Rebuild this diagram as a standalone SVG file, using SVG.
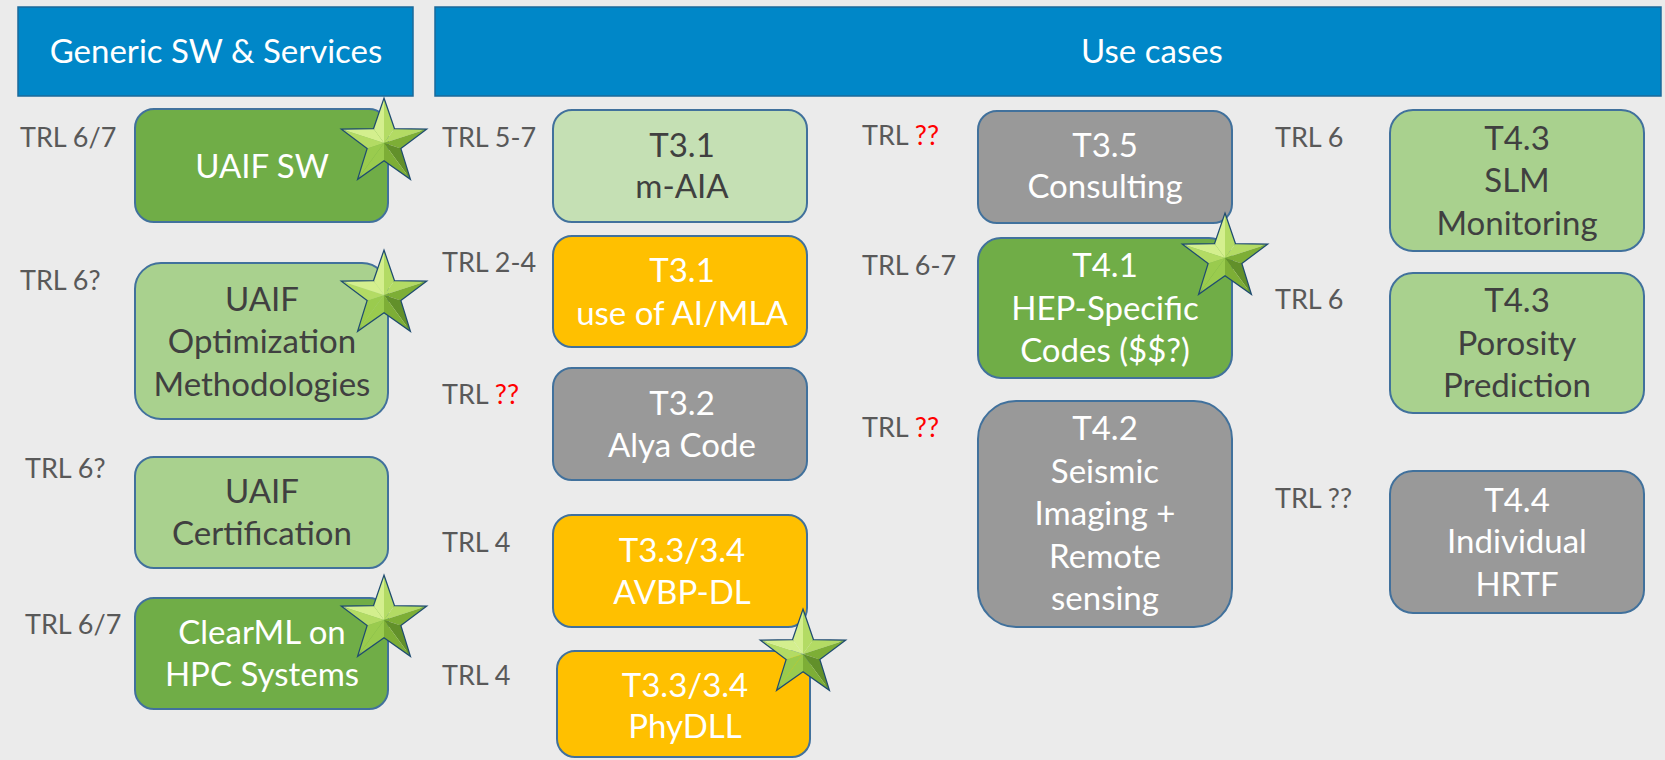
<svg xmlns="http://www.w3.org/2000/svg" width="1665" height="760" viewBox="0 0 1665 760">
<style>
.bg{fill:#EBEBEB}
.hdr{fill:#0087C8;stroke:#1B6A9A;stroke-width:1.5}
.hdrt{font-family:Lato,"Liberation Sans",sans-serif;font-size:33px;fill:#FFFFFF;text-anchor:middle}
.nd{stroke:#41719C;stroke-width:2}
.dg{fill:#70AD47}
.lg{fill:#A9D18E}
.pg{fill:#C5E0B4}
.or{fill:#FFC000}
.gr{fill:#999999}
.nt{font-family:Lato,"Liberation Sans",sans-serif;font-size:33px;text-anchor:middle}
.w{fill:#FFFFFF}
.k{fill:#404040}
.trl{font-family:Lato,"Liberation Sans",sans-serif;font-size:27px;fill:#595959}
.red{fill:#FF0000}
.s1{fill:#D4EF8E}
.s2{fill:#B3DB64}
.s3{fill:#9ACB4E}
.s4{fill:#7DAE36}
.s5{fill:#62902A}
.so{fill:none;stroke:#1E4B70;stroke-width:2.5;stroke-linejoin:miter}
</style>
<defs>
<g id="star">
<polygon class="so" points="0,-43 10,-13.75 40.9,-13.3 16.17,5.25 25.3,34.8 0,17 -25.3,34.8 -16.17,5.25 -40.9,-13.3 -10,-13.75"/>
<polygon class="s1" points="0,0 0,-43 -10,-13.75"/>
<polygon class="s2" points="0,0 0,-43 10,-13.75"/>
<polygon class="s2" points="0,0 40.9,-13.3 10,-13.75"/>
<polygon class="s4" points="0,0 40.9,-13.3 16.17,5.25"/>
<polygon class="s5" points="0,0 25.3,34.8 16.17,5.25"/>
<polygon class="s4" points="0,0 25.3,34.8 0,17"/>
<polygon class="s3" points="0,0 -25.3,34.8 0,17"/>
<polygon class="s3" points="0,0 -25.3,34.8 -16.17,5.25"/>
<polygon class="s2" points="0,0 -40.9,-13.3 -16.17,5.25"/>
<polygon class="s1" points="0,0 -40.9,-13.3 -10,-13.75"/>
</g>
</defs>
<rect class="bg" x="0" y="0" width="1665" height="760"/>

<g id="header-generic">
<rect class="hdr" x="18" y="7" width="395" height="89"/>
<text class="hdrt" x="216" y="63">Generic SW &amp; Services</text>
</g>
<g id="header-usecases">
<rect class="hdr" x="435" y="7" width="1226" height="89"/>
<text class="hdrt" x="1152" y="63">Use cases</text>
</g>

<g id="trl-labels">
<text class="trl" x="20" y="147">TRL 6/7</text>
<text class="trl" x="20" y="290">TRL 6?</text>
<text class="trl" x="25" y="478">TRL 6?</text>
<text class="trl" x="25" y="634">TRL 6/7</text>
<text class="trl" x="442" y="147">TRL 5-7</text>
<text class="trl" x="442" y="272">TRL 2-4</text>
<text class="trl" x="442" y="404">TRL <tspan class="red">??</tspan></text>
<text class="trl" x="442" y="552">TRL 4</text>
<text class="trl" x="442" y="685">TRL 4</text>
<text class="trl" x="862" y="145">TRL <tspan class="red">??</tspan></text>
<text class="trl" x="862" y="275">TRL 6-7</text>
<text class="trl" x="862" y="437">TRL <tspan class="red">??</tspan></text>
<text class="trl" x="1275" y="147">TRL 6</text>
<text class="trl" x="1275" y="309">TRL 6</text>
<text class="trl" x="1275" y="508">TRL ??</text>
</g>

<g id="node-uaif-sw">
<rect class="nd dg" x="135" y="109" width="253" height="113" rx="19"/>
<text class="nt w" x="262" y="178">UAIF SW</text>
</g>
<g id="node-uaif-opt">
<rect class="nd lg" x="135" y="263" width="253" height="156" rx="26"/>
<text class="nt k" x="262"><tspan x="262" y="311">UAIF</tspan><tspan x="262" y="353">Optimization</tspan><tspan x="262" y="396">Methodologies</tspan></text>
</g>
<g id="node-uaif-cert">
<rect class="nd lg" x="135" y="457" width="253" height="111" rx="19"/>
<text class="nt k" x="262"><tspan x="262" y="503">UAIF</tspan><tspan x="262" y="545">Certification</tspan></text>
</g>
<g id="node-clearml">
<rect class="nd dg" x="135" y="598" width="253" height="111" rx="19"/>
<text class="nt w" x="262"><tspan x="262" y="644">ClearML on</tspan><tspan x="262" y="686">HPC Systems</tspan></text>
</g>

<g id="node-t31-maia">
<rect class="nd pg" x="553" y="110" width="254" height="112" rx="19"/>
<text class="nt k" x="682"><tspan x="682" y="157">T3.1</tspan><tspan x="682" y="198">m-AIA</tspan></text>
</g>
<g id="node-t31-aimla">
<rect class="nd or" x="553" y="236" width="254" height="111" rx="19"/>
<text class="nt w" x="682"><tspan x="682" y="282">T3.1</tspan><tspan x="682" y="325">use of AI/MLA</tspan></text>
</g>
<g id="node-t32-alya">
<rect class="nd gr" x="553" y="368" width="254" height="112" rx="19"/>
<text class="nt w" x="682"><tspan x="682" y="415">T3.2</tspan><tspan x="682" y="457">Alya Code</tspan></text>
</g>
<g id="node-t33-avbp">
<rect class="nd or" x="553" y="515" width="254" height="112" rx="19"/>
<text class="nt w" x="682"><tspan x="682" y="562">T3.3/3.4</tspan><tspan x="682" y="604">AVBP-DL</tspan></text>
</g>
<g id="node-t33-phydll">
<rect class="nd or" x="557" y="651" width="253" height="106" rx="18"/>
<text class="nt w" x="685"><tspan x="685" y="697">T3.3/3.4</tspan><tspan x="685" y="738">PhyDLL</tspan></text>
</g>

<g id="node-t35-consulting">
<rect class="nd gr" x="978" y="111" width="254" height="112" rx="19"/>
<text class="nt w" x="1105"><tspan x="1105" y="157">T3.5</tspan><tspan x="1105" y="198">Consulting</tspan></text>
</g>
<g id="node-t41-hep">
<rect class="nd dg" x="978" y="238" width="254" height="140" rx="23"/>
<text class="nt w" x="1105"><tspan x="1105" y="277">T4.1</tspan><tspan x="1105" y="320">HEP-Specific</tspan><tspan x="1105" y="362">Codes ($$?)</tspan></text>
</g>
<g id="node-t42-seismic">
<rect class="nd gr" x="978" y="401" width="254" height="226" rx="38"/>
<text class="nt w" x="1105"><tspan x="1105" y="440">T4.2</tspan><tspan x="1105" y="483">Seismic</tspan><tspan x="1105" y="525">Imaging +</tspan><tspan x="1105" y="568">Remote</tspan><tspan x="1105" y="610">sensing</tspan></text>
</g>

<g id="node-t43-slm">
<rect class="nd lg" x="1390" y="110" width="254" height="141" rx="23"/>
<text class="nt k" x="1517"><tspan x="1517" y="150">T4.3</tspan><tspan x="1517" y="192">SLM</tspan><tspan x="1517" y="235">Monitoring</tspan></text>
</g>
<g id="node-t43-porosity">
<rect class="nd lg" x="1390" y="273" width="254" height="140" rx="23"/>
<text class="nt k" x="1517"><tspan x="1517" y="312">T4.3</tspan><tspan x="1517" y="355">Porosity</tspan><tspan x="1517" y="397">Prediction</tspan></text>
</g>
<g id="node-t44-hrtf">
<rect class="nd gr" x="1390" y="471" width="254" height="142" rx="23"/>
<text class="nt w" x="1517"><tspan x="1517" y="512">T4.4</tspan><tspan x="1517" y="553">Individual</tspan><tspan x="1517" y="596">HRTF</tspan></text>
</g>

<g id="stars">
<use href="#star" x="384" y="143"/>
<use href="#star" x="384" y="295"/>
<use href="#star" x="384" y="620"/>
<use href="#star" x="803" y="654"/>
<use href="#star" x="1225" y="258"/>
</g>
</svg>
